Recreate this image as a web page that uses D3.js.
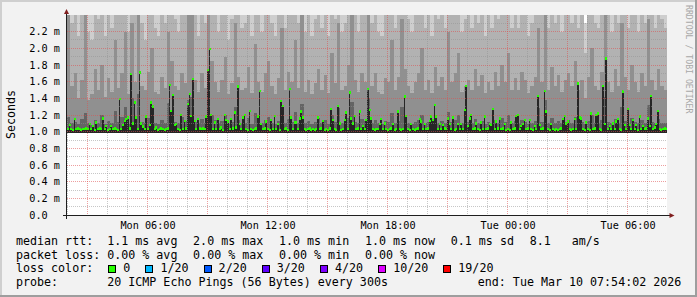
<!DOCTYPE html>
<html>
<head>
<meta charset="utf-8">
<script src="https://cdn.jsdelivr.net/npm/d3@7"></script>
<style>
body { margin: 0; background: #f2f2f2; }
svg { display: block; }
text { font-family: "DejaVu Sans Mono", monospace; white-space: pre; }
</style>
</head>
<body>
<div id="chart"></div>
<script>
// median rtt per 5 min step (ms), 360 steps
var median = [
  1.03,1.08,1.03,1.02,1.15,1.03,1.04,1.03,1.02,1.03,1.03,1.04,1.03,1.09,1.03,1.07,1.02,1.11,1.03,1.04,
  1.03,1.16,1.03,1.07,1.02,1.03,1.07,1.03,1.04,1.03,1.02,1.39,1.03,1.08,1.13,1.15,1.17,1.04,1.69,1.10,
  1.35,1.17,1.03,1.71,1.10,1.06,1.03,1.18,1.03,1.08,1.35,1.30,1.03,1.05,1.02,1.03,1.04,1.03,1.02,1.03,
  1.04,1.56,1.25,1.44,1.08,1.09,1.03,1.02,1.20,1.03,1.13,1.04,1.33,1.45,1.19,1.63,1.13,1.03,1.15,1.04,
  1.03,1.04,1.03,1.18,1.74,1.99,1.20,1.03,1.11,1.03,1.15,1.03,1.05,1.02,1.20,1.14,1.12,1.03,1.15,1.04,
  1.23,1.05,1.54,1.09,1.03,1.17,1.20,1.03,1.02,1.25,1.03,1.02,1.03,1.04,1.18,1.49,1.09,1.03,1.04,1.12,
  1.03,1.02,1.14,1.03,1.19,1.03,1.09,1.02,1.37,1.31,1.03,1.04,1.02,1.51,1.17,1.03,1.11,1.11,1.03,1.16,
  1.24,1.17,1.03,1.02,1.03,1.04,1.02,1.03,1.02,1.03,1.17,1.03,1.04,1.13,1.02,1.03,1.02,1.04,1.27,1.14,
  1.03,1.02,1.31,1.10,1.02,1.03,1.14,1.23,1.03,1.47,1.16,1.10,1.19,1.03,1.04,1.24,1.03,1.07,1.03,1.14,
  1.51,1.26,1.16,1.03,1.02,1.03,1.03,1.09,1.15,1.03,1.10,1.03,1.02,1.03,1.04,1.09,1.02,1.03,1.24,1.03,
  1.02,1.03,1.42,1.19,1.03,1.02,1.09,1.03,1.02,1.03,1.04,1.15,1.12,1.03,1.09,1.03,1.04,1.13,1.18,1.14,
  1.32,1.18,1.03,1.09,1.03,1.08,1.04,1.03,1.16,1.09,1.03,1.17,1.02,1.03,1.09,1.03,1.09,1.03,1.26,1.55,
  1.07,1.16,1.20,1.03,1.04,1.10,1.03,1.02,1.11,1.03,1.18,1.03,1.04,1.09,1.08,1.27,1.03,1.12,1.04,1.16,
  1.03,1.04,1.09,1.02,1.03,1.02,1.11,1.03,1.04,1.19,1.20,1.03,1.07,1.09,1.14,1.03,1.04,1.14,1.03,1.02,
  1.07,1.03,1.43,1.08,1.03,1.04,1.49,1.24,1.03,1.02,1.09,1.03,1.02,1.03,1.02,1.03,1.04,1.15,1.19,1.10,
  1.12,1.03,1.02,1.03,1.15,1.03,1.58,1.17,1.16,1.03,1.02,1.11,1.03,1.02,1.22,1.03,1.04,1.20,1.22,1.03,
  1.02,1.55,1.09,1.88,1.03,1.07,1.03,1.10,1.03,1.12,1.15,1.03,1.02,1.48,1.08,1.03,1.27,1.08,1.03,1.14,
  1.03,1.08,1.02,1.18,1.03,1.07,1.03,1.04,1.16,1.07,1.43,1.03,1.05,1.09,1.25,1.03,1.02,1.03,1.04,1.03
];

// smoke: sorted ping levels per 10 min bin (ms), 180 bins
var ping12 = [
  1.18,1.10,1.12,1.09,1.15,1.22,1.10,1.08,1.14,1.11,1.20,1.09,1.13,1.10,1.25,
  1.12,1.18,1.30,1.09,1.40,1.15,1.45,1.12,1.10,1.16,1.28,1.11,1.09,1.14,1.10,
  1.35,1.22,1.12,1.10,1.18,1.13,1.38,1.42,1.12,1.10,1.15,1.11,1.55,1.20,1.14,
  1.10,1.13,1.20,1.09,1.12,1.30,1.14,1.10,1.11,1.16,1.09,1.22,1.12,1.10,1.14,
  1.18,1.11,1.09,1.13,1.26,1.10,1.15,1.12,1.24,1.11,1.33,1.10,1.13,1.09,1.12,
  1.16,1.10,1.14,1.09,1.20,1.12,1.28,1.10,1.11,1.17,1.36,1.12,1.10,1.15,1.13,
  1.40,1.11,1.14,1.10,1.09,1.13,1.12,1.22,1.10,1.13,1.30,1.15,1.11,1.09,1.12,
  1.14,1.20,1.10,1.12,1.09,1.16,1.11,1.13,1.10,1.24,1.12,1.14,1.20,1.10,1.11,
  1.12,1.10,1.15,1.11,1.13,1.09,1.12,1.10,1.14,1.11,1.16,1.12,1.20,1.10,1.13,
  1.10,1.14,1.12,1.09,1.11,1.13,1.28,1.12,1.38,1.10,1.16,1.11,1.13,1.10,1.12,
  1.14,1.11,1.18,1.10,1.12,1.09,1.13,1.20,1.11,1.10,1.14,1.42,1.12,1.10,1.15,
  1.11,1.30,1.13,1.10,1.16,1.12,1.10,1.14,1.11,1.32,1.12,1.10,1.15,1.11,1.10
];
var ping15 = [
  2.45,1.55,1.70,1.40,1.62,2.50,1.38,1.45,1.75,1.50,1.80,1.42,1.65,1.48,2.10,
  1.52,1.70,2.20,1.45,2.30,1.60,2.45,1.55,1.50,1.72,2.00,1.48,1.45,1.66,1.52,
  2.20,1.85,1.55,1.50,1.70,1.58,2.50,2.45,1.62,1.48,1.70,1.52,2.55,1.85,1.60,
  1.48,1.62,1.90,1.45,1.58,2.30,1.66,1.50,1.52,1.78,1.46,2.05,1.60,1.48,1.70,
  1.85,1.55,1.45,1.64,2.25,1.50,1.72,1.60,2.10,1.52,2.40,1.48,1.62,1.45,1.58,
  1.75,1.50,1.68,1.46,1.95,1.58,2.30,1.50,1.55,1.80,2.45,1.62,1.48,1.70,1.60,
  2.50,1.55,1.70,1.48,1.45,1.65,1.60,2.10,1.50,1.66,2.35,1.75,1.55,1.46,1.60,
  1.70,2.00,1.50,1.62,1.46,1.78,1.55,1.66,1.50,2.20,1.60,1.70,1.95,1.48,1.55,
  1.62,1.50,1.75,1.55,1.68,1.46,1.60,1.50,1.72,1.55,1.80,1.60,1.95,1.50,1.65,
  1.50,1.72,1.62,1.46,1.55,1.66,2.25,1.60,2.45,1.50,1.78,1.55,1.68,1.48,1.62,
  1.70,1.55,1.85,1.50,1.62,1.40,1.66,2.00,1.55,1.50,1.72,2.50,1.60,1.48,1.75,
  1.55,2.30,1.66,1.50,1.80,1.60,1.48,1.70,1.55,2.35,1.62,1.50,1.75,1.55,1.50
];
var ping18 = [
  2.70,2.30,2.60,2.15,2.50,2.80,2.20,2.10,2.65,2.35,2.60,2.15,2.45,2.25,2.75,
  2.40,2.55,2.70,2.20,2.80,2.45,2.75,2.30,2.10,2.60,2.65,2.25,2.15,2.50,2.30,
  2.70,2.60,2.35,2.20,2.50,2.40,2.80,2.75,2.45,2.15,2.60,2.30,2.85,2.55,2.40,
  2.20,2.45,2.65,2.10,2.35,2.70,2.50,2.25,2.30,2.60,2.15,2.70,2.40,2.20,2.55,
  2.60,2.30,2.15,2.50,2.75,2.25,2.55,2.40,2.70,2.30,2.80,2.20,2.45,2.15,2.35,
  2.55,2.25,2.50,2.15,2.65,2.35,2.75,2.20,2.30,2.60,2.80,2.45,2.20,2.55,2.40,
  2.80,2.30,2.55,2.20,2.15,2.50,2.40,2.70,2.25,2.50,2.75,2.60,2.35,2.20,2.45,
  2.55,2.70,2.25,2.45,2.15,2.60,2.35,2.50,2.25,2.70,2.40,2.55,2.65,2.20,2.35,
  2.45,2.25,2.60,2.30,2.50,2.15,2.40,2.25,2.55,2.35,2.60,2.45,2.65,2.25,2.50,
  2.25,2.55,2.45,2.15,2.30,2.50,2.70,2.40,2.80,2.25,2.60,2.30,2.50,2.20,2.45,
  2.55,2.30,2.65,2.25,2.45,1.95,2.50,2.70,2.30,2.25,2.55,2.85,2.40,2.20,2.60,
  2.30,2.75,2.50,2.25,2.60,2.40,2.20,2.55,2.30,2.75,2.45,2.25,2.60,2.35,2.25
];
var pingMax = [
  2.95,2.70,3.05,2.60,2.85,3.10,2.65,2.55,2.90,2.75,3.00,2.60,2.85,2.70,3.10,
  2.80,2.95,3.10,2.65,3.15,2.85,3.05,2.70,2.55,2.95,3.00,2.65,2.60,2.90,2.70,
  3.05,2.95,2.75,2.60,2.90,2.80,3.15,3.10,2.85,2.55,3.00,2.70,3.20,2.90,2.80,
  2.65,2.85,3.00,2.55,2.75,3.05,2.90,2.65,2.70,2.95,2.60,3.05,2.80,2.65,2.90,
  2.95,2.70,2.60,2.90,3.10,2.65,2.95,2.80,3.05,2.70,3.15,2.65,2.85,2.60,2.75,
  2.90,2.65,2.90,2.60,3.00,2.75,3.10,2.65,2.70,2.95,3.15,2.85,2.65,2.90,2.80,
  3.15,2.70,2.95,2.65,2.60,2.90,2.80,3.05,2.65,2.90,3.10,2.95,2.75,2.65,2.85,
  2.90,3.05,2.65,2.85,2.60,2.95,2.75,2.90,2.65,3.05,2.80,2.90,3.00,2.65,2.75,
  2.85,2.65,2.95,2.70,2.90,2.60,2.80,2.65,2.95,2.75,2.95,2.85,3.00,2.65,2.90,
  2.65,2.95,2.85,2.60,2.70,2.90,3.05,2.80,3.15,2.65,2.95,2.70,2.90,2.65,2.85,
  2.95,2.70,3.00,2.65,2.85,2.30,2.90,3.05,2.70,2.70,2.95,3.20,2.80,2.65,2.95,
  2.70,3.10,2.90,2.65,2.95,2.80,2.60,2.95,2.70,3.10,2.85,2.65,2.95,2.75,2.65
];
var pingFloor = 0.99;

var startTime = Date.UTC(2026, 2, 9, 1, 59), stepMs = 300000;

var lossLabels = ["0", "1/20", "2/20", "3/20", "4/20", "10/20", "19/20"];
var lossColors = ["#26ff00", "#00b8ff", "#0059ff", "#5e00ff", "#7e00ff", "#dd00ff", "#ff0000"];

var rttLegend = ["median rtt:  1.1 ms avg", "2.0 ms max", "1.0 ms min", "1.0 ms now", "0.1 ms sd", "8.1   am/s"];
var lossLegend = ["packet loss: 0.00 % avg", "0.00 % max", "0.00 % min", "0.00 % now"];
var probeText = "probe:       20 ICMP Echo Pings (56 Bytes) every 300s";
var endText = "end: Tue Mar 10 07:54:02 2026";

function smokechart(selector){

    var W = 697, H = 297,
        left = 67, right = 667, top = 15, bottom = 215,
        legendFont = 11.66, axisFont = 10.2;

    var svg = d3.select(selector).append("svg")
        .attr("width", W)
        .attr("height", H)

    // frame, rrdtool style shade
    svg.append("rect").attr("width", W).attr("height", H).attr("fill", "#f2f2f2")
    svg.append("rect").attr("width", W).attr("height", 2).attr("fill", "#cfcfcf")
    svg.append("rect").attr("width", 2).attr("height", H).attr("fill", "#cfcfcf")
    svg.append("rect").attr("y", H - 2).attr("width", W).attr("height", 2).attr("fill", "#9e9e9e")
    svg.append("rect").attr("x", W - 2).attr("width", 2).attr("height", H).attr("fill", "#9e9e9e")

    svg.append("rect")
        .attr("x", left).attr("y", top)
        .attr("width", right - left).attr("height", bottom - top)
        .attr("fill", "#ffffff")

    var x = d3.scaleUtc()
        .domain([new Date(startTime), new Date(startTime + median.length * stepMs)])
        .range([left, right])

    var y = d3.scaleLinear()
        .domain([0, 2.4])
        .range([bottom, top])

    svg.append("clipPath").attr("id", "plotclip")
        .append("rect")
        .attr("x", left).attr("y", top)
        .attr("width", right - left).attr("height", bottom - top)

    var plot = svg.append("g").attr("clip-path", "url(#plotclip)")

    var binMs = stepMs * median.length / pingMax.length;
    function bx(i, ms){ return x(new Date(startTime + i * ms)) }

    var bands = [
        [pingMax, "#cecece"],
        [ping18, "#b2b2b2"],
        [ping15, "#909090"],
        [ping12, "#646464"]
    ];

    bands.forEach(function(b){
        plot.append("g").selectAll("rect")
            .data(b[0]).enter().append("rect")
            .attr("x", function(d, i){ return bx(i, binMs) })
            .attr("width", function(d, i){ return bx(i + 1, binMs) - bx(i, binMs) })
            .attr("y", function(d){ return y(d) })
            .attr("height", function(d){ return y(pingFloor) - y(d) })
            .attr("fill", b[1])
            .attr("shape-rendering", "crispEdges")
    })

    // darkest pair, up to the median
    plot.append("g").selectAll("rect")
        .data(median).enter().append("rect")
        .attr("x", function(d, i){ return bx(i, stepMs) })
        .attr("width", function(d, i){ return bx(i + 1, stepMs) - bx(i, stepMs) })
        .attr("y", function(d){ return y(d) })
        .attr("height", function(d){ return y(pingFloor) - y(d) })
        .attr("fill", "#262626")
        .attr("shape-rendering", "crispEdges")

    // median, coloured by loss (all 0 here)
    plot.append("g").selectAll("rect")
        .data(median).enter().append("rect")
        .attr("x", function(d, i){ return bx(i, stepMs) })
        .attr("width", function(d, i){ return bx(i + 1, stepMs) - bx(i, stepMs) + 0.3 })
        .attr("y", function(d){ return y(d) - 1.2 })
        .attr("height", 2.4)
        .attr("fill", lossColors[0])
        .attr("shape-rendering", "crispEdges")

    // grid
    var grid = svg.append("g").attr("shape-rendering", "crispEdges")
    function px(v){ return Math.floor(v) + 0.5 }

    var yMinor = y.ticks(24).filter(function(v){ return v > 0 && v < 2.39 && Math.round(v * 10) % 2 !== 0 })
    var yMajor = y.ticks(12).filter(function(v){ return v > 0 && v < 2.39 })
    var xMinor = x.ticks(d3.utcHour.every(1)).filter(function(t){ return t.getUTCHours() % 3 !== 0 })
    var xMajor = x.ticks(d3.utcHour.every(3))
    var xLabels = x.ticks(d3.utcHour.every(6))

    grid.selectAll(".yminor").data(yMinor).enter().append("line")
        .attr("x1", left).attr("x2", right)
        .attr("y1", function(d){ return px(y(d)) }).attr("y2", function(d){ return px(y(d)) })
        .attr("stroke", "rgba(143,143,143,0.5)").attr("stroke-dasharray", "1,1")
    grid.selectAll(".xminor").data(xMinor).enter().append("line")
        .attr("y1", top).attr("y2", bottom)
        .attr("x1", function(d){ return px(x(d)) }).attr("x2", function(d){ return px(x(d)) })
        .attr("stroke", "rgba(143,143,143,0.5)").attr("stroke-dasharray", "1,1")
    grid.selectAll(".ymajor").data(yMajor).enter().append("line")
        .attr("x1", left).attr("x2", right)
        .attr("y1", function(d){ return px(y(d)) }).attr("y2", function(d){ return px(y(d)) })
        .attr("stroke", "rgba(222,79,79,0.55)").attr("stroke-dasharray", "1,1")
    grid.selectAll(".xmajor").data(xMajor).enter().append("line")
        .attr("y1", top).attr("y2", bottom)
        .attr("x1", function(d){ return px(x(d)) }).attr("x2", function(d){ return px(x(d)) })
        .attr("stroke", "rgba(222,79,79,0.55)").attr("stroke-dasharray", "1,1")

    // axes with arrows
    svg.append("line").attr("x1", 63).attr("x2", 670).attr("y1", 215.5).attr("y2", 215.5)
        .attr("stroke", "#1f1f1f").attr("shape-rendering", "crispEdges")
    svg.append("line").attr("x1", 66.5).attr("x2", 66.5).attr("y1", 219).attr("y2", 13)
        .attr("stroke", "#1f1f1f").attr("shape-rendering", "crispEdges")
    svg.append("path").attr("d", "M66.5,9L64,14L69,14Z").attr("fill", "#801f1f")
    svg.append("path").attr("d", "M674.5,215.5L669.5,213L669.5,218Z").attr("fill", "#801f1f")

    // y labels
    svg.selectAll(".ylab").data(y.ticks(12).filter(function(v){ return v < 2.39 })).enter().append("text")
        .attr("xml:space", "preserve")
        .attr("x", 60).attr("y", function(d){ return px(y(d)) + 3.7 })
        .attr("text-anchor", "end")
        .attr("font-size", axisFont)
        .attr("fill", "#000")
        .text(function(d){ return d === 0 ? "0.0  " : d3.format(".1f")(d) + " m" })

    // x labels
    svg.selectAll(".xlab").data(xLabels).enter().append("text")
        .attr("x", function(d){ return x(d) + 0.7 }).attr("y", 228.7)
        .attr("text-anchor", "middle")
        .attr("font-size", axisFont)
        .text(d3.utcFormat("%a %H:%M"))

    svg.append("text")
        .attr("transform", "translate(14.5,114.5) rotate(-90)")
        .attr("text-anchor", "middle")
        .attr("font-size", legendFont)
        .text("Seconds")

    svg.append("text")
        .attr("transform", "translate(685.5,5) rotate(90)")
        .attr("font-size", 8.2)
        .attr("fill", "#a8a8a8")
        .text("RRDTOOL / TOBI OETIKER")

    // legend
    var gap = 15.7;
    function legendRow(items, yy){
        var xx = 16;
        items.forEach(function(s){
            var t = svg.append("text")
                .attr("xml:space", "preserve")
                .attr("x", xx).attr("y", yy)
                .attr("font-size", legendFont)
                .text(s)
            xx += t.node().getComputedTextLength() + gap;
        })
    }
    legendRow(rttLegend, 245)
    legendRow(lossLegend, 258.6)

    var lc = svg.append("text").attr("x", 16).attr("y", 272.2)
        .attr("font-size", legendFont).text("loss color:")
    var bxPos = 16 + lc.node().getComputedTextLength() + 15.1;
    lossLabels.forEach(function(lab, i){
        svg.append("rect")
            .attr("x", bxPos + 0.5).attr("y", 265.5)
            .attr("width", 7).attr("height", 7)
            .attr("fill", lossColors[i]).attr("stroke", "#000")
            .attr("shape-rendering", "crispEdges")
        var t = svg.append("text").attr("x", bxPos + 15).attr("y", 272.2)
            .attr("font-size", legendFont).text(lab)
        bxPos = bxPos + 15 + t.node().getComputedTextLength() + 15.1;
    })

    svg.append("text")
        .attr("xml:space", "preserve")
        .attr("x", 16).attr("y", 285.8)
        .attr("font-size", legendFont)
        .text(probeText)
    svg.append("text")
        .attr("x", 681.3).attr("y", 285.8)
        .attr("text-anchor", "end")
        .attr("font-size", legendFont)
        .text(endText)
}

smokechart("#chart")
</script>
</body>
</html>
